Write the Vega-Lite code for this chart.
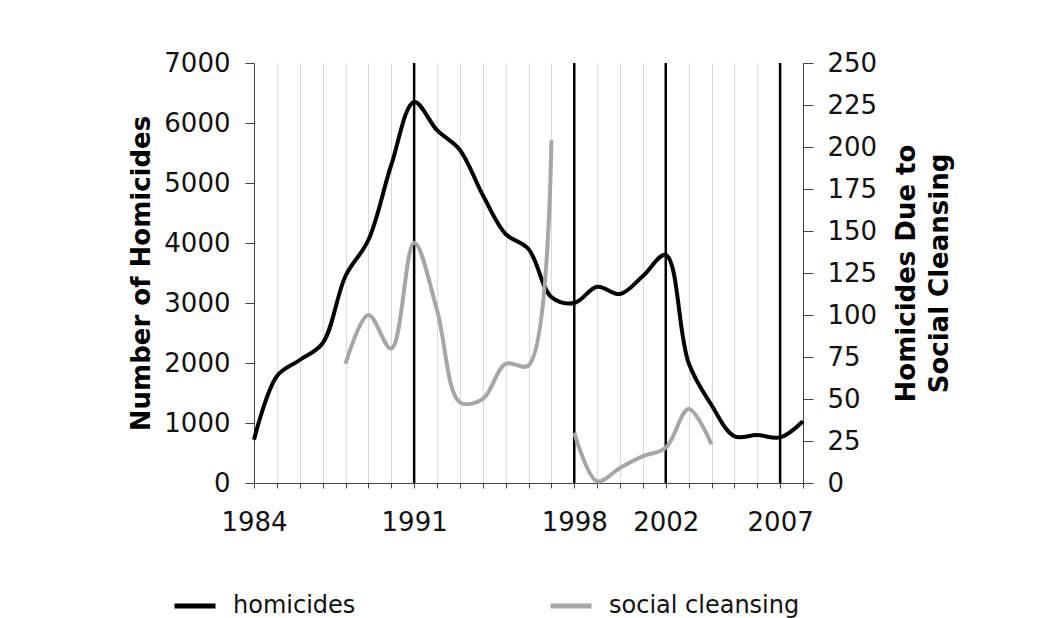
{
  "$schema": "https://vega.github.io/schema/vega-lite/v6.json",
  "width": 549,
  "height": 420,
  "autosize": {"type": "none"},
  "padding": {"left": 254, "top": 63, "right": 255, "bottom": 135},
  "background": "white",
  "config": {"view": {"stroke": null}, "font": "DejaVu Sans"},
  "datasets": {
    "main": [
      {"year": 1984, "homicides": 720, "social": null, "part": null},
      {"year": 1985, "homicides": 1780, "social": null, "part": null},
      {"year": 1986, "homicides": 2050, "social": null, "part": null},
      {"year": 1987, "homicides": 2330, "social": null, "part": null},
      {"year": 1988, "homicides": 3450, "social": 71, "part": "a"},
      {"year": 1989, "homicides": 4050, "social": 100, "part": "a"},
      {"year": 1990, "homicides": 5300, "social": 80, "part": "a"},
      {"year": 1991, "homicides": 6350, "social": 143, "part": "a"},
      {"year": 1992, "homicides": 5880, "social": 103, "part": "a"},
      {"year": 1993, "homicides": 5550, "social": 48, "part": "a"},
      {"year": 1994, "homicides": 4800, "social": 50, "part": "a"},
      {"year": 1995, "homicides": 4150, "social": 71, "part": "a"},
      {"year": 1996, "homicides": 3900, "social": 70, "part": "a"},
      {"year": 1997, "homicides": 3100, "social": 204, "part": "a"},
      {"year": 1998, "homicides": 3000, "social": 30, "part": "b"},
      {"year": 1999, "homicides": 3270, "social": 1, "part": "b"},
      {"year": 2000, "homicides": 3150, "social": 9, "part": "b"},
      {"year": 2001, "homicides": 3450, "social": 16, "part": "b"},
      {"year": 2002, "homicides": 3800, "social": 21, "part": "b"},
      {"year": 2003, "homicides": 2000, "social": 44, "part": "b"},
      {"year": 2004, "homicides": 1300, "social": 23, "part": "b"},
      {"year": 2005, "homicides": 780, "social": null, "part": null},
      {"year": 2006, "homicides": 800, "social": null, "part": null},
      {"year": 2007, "homicides": 760, "social": null, "part": null},
      {"year": 2008, "homicides": 1030, "social": null, "part": null}
    ],
    "events": [{"year": 1991}, {"year": 1998}, {"year": 2002}, {"year": 2007}]
  },
  "encoding": {
    "x": {
      "field": "year",
      "type": "quantitative",
      "scale": {"domain": [1984, 2008], "nice": false, "zero": false},
      "axis": {
        "title": null,
        "values": [1984,1985,1986,1987,1988,1989,1990,1991,1992,1993,1994,1995,1996,1997,1998,1999,2000,2001,2002,2003,2004,2005,2006,2007,2008],
        "format": "d",
        "labelExpr": "indexof([1984,1991,1998,2002,2007], datum.value) >= 0 ? datum.label : ''",
        "grid": true,
        "gridColor": "#d9d9d9",
        "gridWidth": 1,
        "domainColor": "#444444",
        "tickColor": "#444444",
        "tickSize": 5,
        "labelFontSize": 26,
        "labelColor": "#111111",
        "labelPadding": 21,
        "labelFlush": false,
        "labelOverlap": false
      }
    }
  },
  "layer": [
    {
      "data": {"name": "events"},
      "mark": {"type": "rule", "color": "black", "strokeWidth": 2.5},
      "encoding": {}
    },
    {
      "data": {"name": "main"},
      "mark": {"type": "line", "interpolate": "catmull-rom", "strokeWidth": 4},
      "encoding": {
        "y": {
          "field": "homicides",
          "type": "quantitative",
          "scale": {"domain": [0, 7000], "nice": false},
          "axis": {
            "title": "Number of Homicides",
            "values": [0,1000,2000,3000,4000,5000,6000,7000],
            "format": "d",
            "grid": false,
            "domainColor": "#444444",
            "tickColor": "#444444",
            "tickSize": 9,
            "labelFontSize": 26,
            "labelColor": "#111111",
            "labelPadding": 15,
            "titleFontSize": 26,
            "titleFontWeight": "bold",
            "titleColor": "black",
            "titlePadding": 9
          }
        },
        "color": {
          "datum": "homicides",
          "type": "nominal",
          "scale": {"domain": ["homicides", "social cleansing"], "range": ["#000000", "#a6a6a6"]},
          "legend": {
            "orient": "none",
            "legendX": -82,
            "legendY": 520,
            "direction": "horizontal",
            "title": null,
            "symbolType": "stroke",
            "symbolSize": 1681,
            "symbolStrokeWidth": 5,
            "labelFontSize": 24,
            "labelColor": "#111111",
            "labelOffset": 15,
            "labelLimit": 400,
            "columnPadding": 184,
            "padding": 0
          }
        }
      }
    },
    {
      "data": {"name": "main"},
      "transform": [{"filter": "datum.social != null"}],
      "mark": {"type": "line", "interpolate": "catmull-rom", "strokeWidth": 4},
      "encoding": {
        "y": {
          "field": "social",
          "type": "quantitative",
          "scale": {"domain": [0, 250], "nice": false},
          "axis": {
            "orient": "right",
            "title": ["Homicides Due to", "Social Cleansing"],
            "values": [0,25,50,75,100,125,150,175,200,225,250],
            "format": "d",
            "grid": false,
            "domainColor": "#444444",
            "tickColor": "#444444",
            "tickSize": 10,
            "labelFontSize": 26,
            "labelColor": "#111111",
            "labelPadding": 14,
            "titleFontSize": 26,
            "titleFontWeight": "bold",
            "titleColor": "black",
            "titleAngle": 270,
            "titleLineHeight": 33,
            "titlePadding": 10
          }
        },
        "color": {"datum": "social cleansing", "type": "nominal"},
        "detail": {"field": "part", "type": "nominal"}
      }
    }
  ],
  "resolve": {"scale": {"y": "independent"}}
}
